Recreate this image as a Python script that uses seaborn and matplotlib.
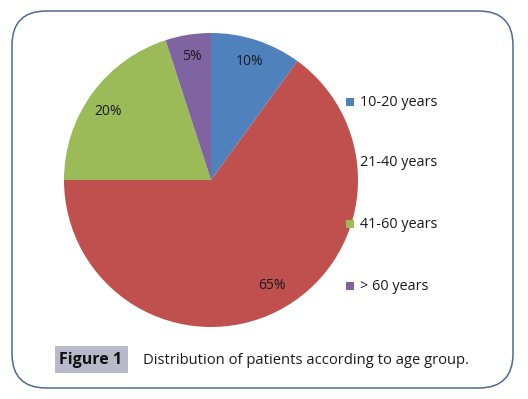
import matplotlib
matplotlib.use("Agg")
import numpy as np
import matplotlib.pyplot as plt
import seaborn as sns
from matplotlib.patches import FancyBboxPatch, Rectangle

# chart data
age_groups = ["10-20 years", "21-40 years", "41-60 years", "> 60 years"]
shares = [10, 65, 20, 5]
colors = ["#4F81BD", "#C0504D", "#9BBB59", "#8064A2"]
fig_label = "Figure 1"
caption = "Distribution of patients according to age group."

sns.set_theme(style="white")
plt.rcParams["font.family"] = ["Open Sans", "DejaVu Sans"]

W, H = 528, 399
fig = plt.figure(figsize=(W / 100, H / 100), dpi=100)
fig.patch.set_facecolor("white")


def fx(px):
    return px / W


def fy(py):
    return 1 - py / H


# rounded frame around the whole figure
frame = FancyBboxPatch((fx(12), fy(388)), fx(513) - fx(12), fy(11) - fy(388),
                       boxstyle="round,pad=0,rounding_size=0.065",
                       transform=fig.transFigure, fill=False,
                       edgecolor="#4F6A92", linewidth=1.1,
                       mutation_aspect=W / H)
fig.add_artist(frame)

# pie: centre (211,180), radius 147 px
cx, cy, r = 211, 180, 147
ax = fig.add_axes([fx(cx - r), fy(cy + r), fx(2 * r), (2 * r) / H])
wedges, texts, autotexts = ax.pie(
    shares, colors=colors, startangle=90, counterclock=False,
    autopct="%d%%", pctdistance=0.84, radius=1,
    textprops={"fontsize": 10, "color": "#1a1a1a"},
    wedgeprops={"linewidth": 0})
# label placement differs a little per slice in the original
label_dist = [0.85, 0.83, 0.84, 0.85]
label_turn = [0, 3, 2.5, 0]
for w, t, d, da in zip(wedges, autotexts, label_dist, label_turn):
    ang = np.deg2rad((w.theta1 + w.theta2) / 2 + da)
    t.set_position((d * np.cos(ang), d * np.sin(ang)))
ax.set_xlim(-1, 1)
ax.set_ylim(-1, 1)
ax.set_aspect("equal")
ax.axis("off")

# legend entries, drawn by hand to match the spacing
row_y = [102, 163, 224, 286]
for lab, col, yy in zip(age_groups, colors, row_y):
    fig.add_artist(Rectangle((fx(346), fy(yy + 4)), fx(8), 8 / H,
                             transform=fig.transFigure, facecolor=col,
                             edgecolor="none", zorder=0.5))
    fig.text(fx(360), fy(yy), lab, fontsize=10.4, va="center", ha="left",
             color="#1a1a1a")

# caption
fig.add_artist(Rectangle((fx(55), fy(373)), fx(73), 27 / H,
                         transform=fig.transFigure, facecolor="#B9BAC9",
                         edgecolor="none"))
fig.text(fx(59), fy(360), fig_label, fontsize=11.5, fontweight="bold",
         va="center", ha="left", color="#111111")
fig.text(fx(143), fy(360), caption, fontsize=10.6, va="center", ha="left",
         color="#1a1a1a")

fig.savefig("out.png", dpi=100, facecolor="white")
